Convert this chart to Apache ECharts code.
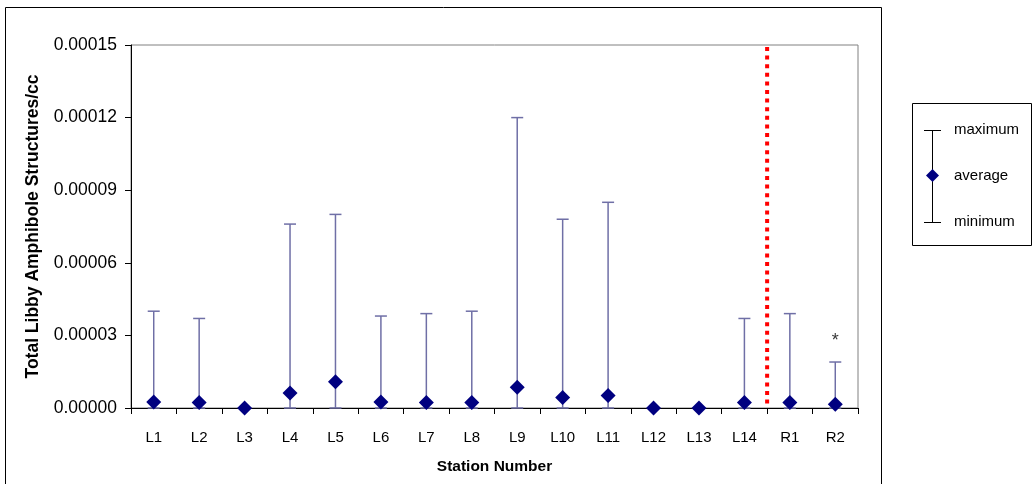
<!DOCTYPE html>
<html>
<head>
<meta charset="utf-8">
<script src="https://cdn.jsdelivr.net/npm/echarts@6/dist/echarts.min.js"></script>
<style>
  html, body { margin: 0; padding: 0; background: #fff; }
  #chart { width: 1034px; height: 484px; }
</style>
</head>
<body>
<div id="chart"></div>
<script>
// Datos
const stations = ['L1', 'L2', 'L3', 'L4', 'L5', 'L6', 'L7', 'L8', 'L9', 'L10', 'L11', 'L12', 'L13', 'L14', 'R1', 'R2'];
const maximos = [0.000040, 0.000037, 0, 0.000076, 0.000080, 0.000038, 0.000039, 0.000040, 0.000120, 0.000078, 0.000085, 0, 0, 0.000037, 0.000039, 0.000019];
const promedios = [0.0000025, 0.0000023, 0, 0.0000062, 0.0000108, 0.0000025, 0.0000023, 0.0000023, 0.0000086, 0.0000043, 0.0000052, 0, 0, 0.0000023, 0.0000023, 0.0000015];
const minimos = [0, 0, 0, 0, 0, 0, 0, 0, 0, 0, 0, 0, 0, 0, 0, 0];
const notas = ['', '', '', '', '', '', '', '', '', '', '', '', '', '', '', '*'];
const yTicks = ['0.00000', '0.00003', '0.00006', '0.00009', '0.00012', '0.00015'];
const separador = 'L14'; // línea roja después de esta estación

const chart = echarts.init(document.getElementById('chart'));
const font = 'Arial, "Liberation Sans", sans-serif';
const barColor = '#6f6fa6';

chart.setOption({
    animation: false,
    grid: { left: 131, right: 176, top: 45, bottom: 76, show: true, borderColor: '#808080', borderWidth: 1 },
    xAxis: {
        type: 'category',
        data: stations,
        name: 'Station Number',
        nameLocation: 'middle',
        nameGap: 51,
        nameTextStyle: { fontFamily: font, fontSize: 15.5, fontWeight: 'bold', color: '#000' },
        axisLine: { lineStyle: { color: '#000', width: 1 } },
        axisTick: { show: true, length: 6, lineStyle: { color: '#000' } },
        axisLabel: { fontFamily: font, fontSize: 15, color: '#000', margin: 22 },
        splitLine: { show: false }
    },
    yAxis: {
        type: 'value',
        min: 0,
        max: 0.00015,
        interval: 0.00003,
        name: 'Total Libby Amphibole Structures/cc',
        nameLocation: 'middle',
        nameGap: 89,
        nameTextStyle: { fontFamily: font, fontSize: 17.5, fontWeight: 'bold', color: '#000' },
        axisLine: { show: true, lineStyle: { color: '#000', width: 1 } },
        axisTick: { show: true, length: 6, lineStyle: { color: '#000' } },
        axisLabel: {
            fontFamily: font, fontSize: 17.5, color: '#000', margin: 14,
            formatter: function(v) { return yTicks[Math.round(v / 0.00003)]; }
        },
        splitLine: { show: false }
    },
    series: [
        {
            // barras de mínimo a máximo
            type: 'custom',
            z: 2,
            data: stations.map((s, i) => [i, minimos[i], maximos[i]]),
            renderItem: function(params, api) {
                if (api.value(2) <= api.value(1)) return null;
                const lo = api.coord([api.value(0), api.value(1)]);
                const hi = api.coord([api.value(0), api.value(2)]);
                const half = 6;
                const st = { stroke: barColor, lineWidth: 1.5 };
                return {
                    type: 'group',
                    children: [
                        { type: 'line', shape: { x1: hi[0], y1: hi[1], x2: lo[0], y2: lo[1] }, style: st },
                        { type: 'line', shape: { x1: hi[0] - half, y1: hi[1], x2: hi[0] + half, y2: hi[1] }, style: st },
                        { type: 'line', shape: { x1: lo[0] - half, y1: lo[1], x2: lo[0] + half, y2: lo[1] }, style: st }
                    ]
                };
            }
        },
        {
            // línea roja punteada
            type: 'custom',
            z: 3,
            data: [[stations.indexOf(separador), 0]],
            renderItem: function(params, api) {
                const p = api.coord([api.value(0), 0]);
                const bw = api.size([1, 0])[0];
                const top = api.coord([api.value(0), 0.00015]);
                const x = p[0] + bw / 2;
                return {
                    type: 'line',
                    shape: { x1: x, y1: top[1] + 2, x2: x, y2: p[1] },
                    style: { stroke: '#ff0000', lineWidth: 4, lineDash: [4, 4.6] }
                };
            }
        },
        {
            name: 'average',
            type: 'scatter',
            z: 4,
            symbol: 'diamond',
            symbolSize: [15, 15],
            itemStyle: { color: '#000080', opacity: 1 },
            data: promedios
        },
        {
            // asterisco
            type: 'scatter',
            z: 5,
            symbolSize: 0,
            data: maximos.map((v, i) => ({ value: v, note: notas[i] })),
            label: {
                show: true,
                position: 'top',
                distance: 12,
                fontFamily: font,
                fontSize: 18,
                color: '#000',
                formatter: function(p) { return p.data.note; }
            }
        }
    ],
    graphic: [
        // marco exterior
        { type: 'rect', shape: { x: 5.5, y: 7.5, width: 876, height: 490 }, style: { fill: null, stroke: '#000', lineWidth: 1 }, silent: true },
        // leyenda
        {
            type: 'group', left: 912, top: 103,
            children: [
                { type: 'rect', shape: { x: 0.5, y: 0.5, width: 119, height: 142 }, style: { fill: '#fff', stroke: '#000', lineWidth: 1 } },
                { type: 'line', shape: { x1: 20.5, y1: 27, x2: 20.5, y2: 120 }, style: { stroke: '#000', lineWidth: 1 } },
                { type: 'line', shape: { x1: 12, y1: 27.5, x2: 29, y2: 27.5 }, style: { stroke: '#000', lineWidth: 1 } },
                { type: 'line', shape: { x1: 12, y1: 119.5, x2: 29, y2: 119.5 }, style: { stroke: '#000', lineWidth: 1 } },
                { type: 'polygon', shape: { points: [[20.5, 66], [27, 72.5], [20.5, 79], [14, 72.5]] }, style: { fill: '#000080' } },
                { type: 'text', x: 42, y: 27, style: { text: 'maximum', font: '15px ' + font, fill: '#000', verticalAlign: 'middle' } },
                { type: 'text', x: 42, y: 73, style: { text: 'average', font: '15px ' + font, fill: '#000', verticalAlign: 'middle' } },
                { type: 'text', x: 42, y: 119, style: { text: 'minimum', font: '15px ' + font, fill: '#000', verticalAlign: 'middle' } }
            ]
        }
    ]
});
</script>
</body>
</html>
